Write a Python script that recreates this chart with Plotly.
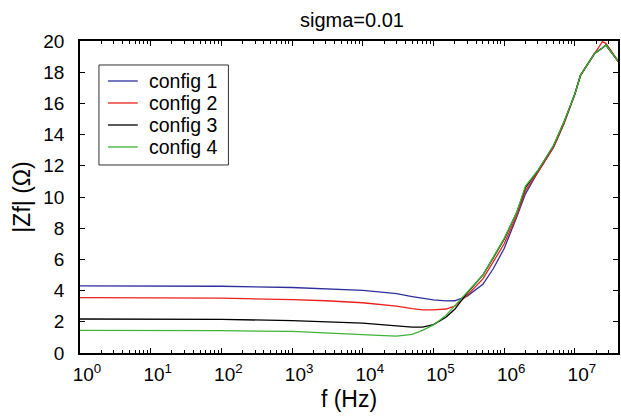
import plotly.graph_objects as go

# Frequency grid (Hz)
freq = [1, 10, 100, 1e3, 3e3, 1e4, 2e4, 3e4, 5e4, 7e4, 1e5, 1.5e5, 2e5, 3e5,
        5e5, 7e5, 1e6, 1.5e6, 2e6, 3e6, 5e6, 7e6, 1e7, 1.2e7, 1.9e7, 2.45e7,
        2.75e7, 4.1e7]

# |Zf| in ohms for each configuration
zf_config1 = [4.30, 4.30, 4.28, 4.20, 4.12, 4.02, 3.88, 3.80, 3.62, 3.50, 3.40,
              3.34, 3.35, 3.65, 4.40, 5.40, 6.70, 8.70, 10.20, 11.60, 13.20,
              14.70, 16.60, 17.80, 19.20, 19.55, 19.74, 18.70]
zf_config2 = [3.55, 3.55, 3.52, 3.42, 3.35, 3.22, 3.10, 3.00, 2.85, 2.77, 2.76,
              2.82, 3.00, 3.70, 4.75, 5.80, 7.00, 8.80, 10.40, 11.60, 13.20,
              14.70, 16.60, 17.80, 19.20, 19.96, 19.85, 18.70]
zf_config3 = [2.18, 2.18, 2.15, 2.08, 2.00, 1.92, 1.80, 1.72, 1.66, 1.66, 1.82,
              2.30, 2.80, 3.85, 5.00, 6.10, 7.30, 9.00, 10.60, 11.70, 13.30,
              14.80, 16.60, 17.80, 19.20, 19.55, 19.74, 18.70]
zf_config4 = [1.45, 1.45, 1.43, 1.38, 1.30, 1.20, 1.12, 1.08, 1.20, 1.45, 1.80,
              2.40, 3.00, 3.90, 5.00, 6.10, 7.35, 9.00, 10.70, 11.70, 13.30,
              14.80, 16.60, 17.80, 19.20, 19.55, 19.74, 18.70]

series_names = ["config 1", "config 2", "config 3", "config 4"]
series_values = [zf_config1, zf_config2, zf_config3, zf_config4]
series_colors = ["#30309c", "#e8221c", "#000000", "#3fb336"]

x_tick_vals = [10 ** k for k in range(8)]
x_tick_text = ["10<sup>%d</sup>" % k for k in range(8)]
x_minor_vals = [m * 10 ** k for k in range(8) for m in range(2, 10)]

font_family = "Liberation Sans, Arial, sans-serif"

fig = go.Figure()
for name, zf, color in zip(series_names, series_values, series_colors):
    fig.add_trace(go.Scatter(x=freq, y=zf, name=name, mode="lines",
                             line=dict(color=color, width=1.3),
                             showlegend=False))

# Boxed legend in the upper-left corner of the axes (paper coordinates)
leg_x0, leg_x1, leg_y0, leg_y1 = 0.0352, 0.2759, 0.6026, 0.9231
leg_line_x0, leg_line_x1, leg_text_x = 0.0519, 0.1074, 0.1241
leg_rows = [0.8718, 0.8013, 0.7308, 0.6603]

shapes = [dict(type="rect", xref="paper", yref="paper",
               x0=leg_x0, x1=leg_x1, y0=leg_y0, y1=leg_y1,
               line=dict(color="#333333", width=1), fillcolor="white",
               layer="above")]
annotations = []
for name, color, ry in zip(series_names, series_colors, leg_rows):
    shapes.append(dict(type="line", xref="paper", yref="paper",
                       x0=leg_line_x0, x1=leg_line_x1, y0=ry, y1=ry,
                       line=dict(color=color, width=1.3), layer="above"))
    annotations.append(dict(text=name, xref="paper", yref="paper",
                            x=leg_text_x, y=ry, xanchor="left",
                            yanchor="middle", showarrow=False,
                            font=dict(size=19.5, family=font_family)))

fig.update_layout(
    width=621, height=419,
    margin=dict(l=80, r=1, t=41, b=66),
    paper_bgcolor="white", plot_bgcolor="white",
    font=dict(family=font_family, size=19, color="black"),
    title=dict(text="sigma=0.01", x=0.5668, xanchor="center",
               y=0.952, yanchor="middle", font=dict(size=20)),
    showlegend=False,
    shapes=shapes,
    annotations=annotations,
)

fig.update_xaxes(
    type="log", range=[0, 7.61],
    tickvals=x_tick_vals, ticktext=x_tick_text,
    ticks="inside", ticklen=5, tickwidth=1, tickcolor="black",
    minor=dict(tickvals=x_minor_vals, ticks="inside", ticklen=3,
               tickcolor="black", showgrid=False),
    showline=True, linecolor="black", linewidth=1.5, mirror="ticks",
    showgrid=False, zeroline=False,
    ticklabelstandoff=3, ticklabelshift=7,
    title=dict(text="f (Hz)", standoff=7),
)

fig.update_yaxes(
    range=[0, 20], dtick=2,
    ticks="inside", ticklen=5, tickwidth=1, tickcolor="black",
    showline=True, linecolor="black", linewidth=1.5, mirror="ticks",
    showgrid=False, zeroline=False, ticklabelstandoff=10,
    title=dict(text="|Zf| (Ω)", standoff=6),
)

fig.write_html("out.html")
